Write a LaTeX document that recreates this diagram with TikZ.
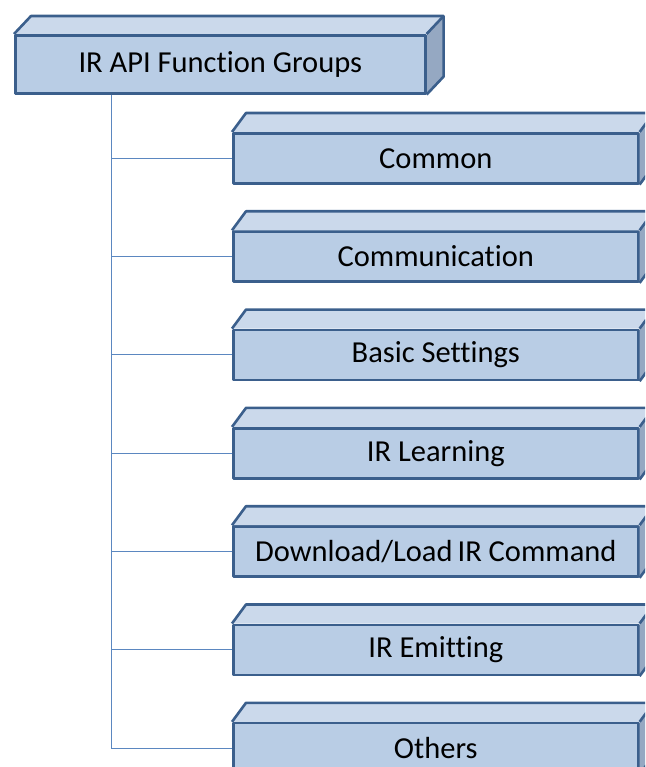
\documentclass[tikz,border=0pt]{standalone}
\usepackage{fontspec}
\setmainfont{Carlito}[Ligatures=NoCommon]
\usetikzlibrary{calc}
\definecolor{boxfill}{HTML}{B9CDE5}
\definecolor{boxtop}{HTML}{CBD9EB}
\definecolor{boxside}{HTML}{95A8C2}
\definecolor{boxedge}{HTML}{3B5F8C}
\definecolor{linkcol}{HTML}{5B87C0}
\tikzset{
  frontface/.style={rectangle, draw=boxedge, fill=boxfill, line width=2.6pt,
    line join=round, anchor=north west, inner sep=0pt, text=black,
    font=\fontsize{30.5}{34}\selectfont},
  mainbox/.style={frontface, minimum width=410pt, minimum height=58pt},
  childbox/.style={frontface, minimum width=405pt, minimum height=50pt},
  face/.style={draw=boxedge, line width=2.6pt, line join=round},
  link/.style={draw=linkcol, line width=0.9pt},
}
% front face node #1, depth offset (#2,#3)
\newcommand{\boxdepth}[3]{%
  \fill[boxtop] (#1.north west) -- ++(#2,#3) -- ($(#1.north east)+(#2,#3)$) -- (#1.north east) -- cycle;
  \fill[boxside] (#1.north east) -- ++(#2,#3) -- ($(#1.south east)+(#2,#3)$) -- (#1.south east) -- cycle;
  \draw[face] (#1.north west) -- ++(#2,#3) -- ($(#1.north east)+(#2,#3)$) -- ($(#1.south east)+(#2,#3)$) -- (#1.south east);
  \draw[face] (#1.north east) -- ++(#2,#3);
}
\begin{document}
\begin{tikzpicture}[x=1pt, y=1pt]
\useasboundingbox (0,0) rectangle (645,-767);
\begin{scope}
\clip (0,0) rectangle (645,-767);
% connectors run under the boxes
\coordinate (trunk) at (111,-92);
\foreach \i/\t in {1/{Common}, 2/{Communication}, 3/{Basic Settings}, 4/{IR Learning},
                   5/{Download/Load\,IR Command}, 6/{IR Emitting}, 7/{Others}}{
  \path (232,{-132-98.3*(\i-1)}) node[childbox] (c\i) {\t};
}
\node[mainbox] (main) at (14,-34) {IR API Function Groups};
\draw[link] (trunk) |- (c7.west);
\foreach \i in {1,...,6}{
  \draw[link] (trunk |- c\i.west) -- (c\i.west);
}
% depth faces of each box
\boxdepth{main}{17}{18}
\node[mainbox] at (14,-34) {IR API Function Groups};
\foreach \i in {1,...,7}{
  \boxdepth{c\i}{14}{19}
}
\end{scope}
\end{tikzpicture}
\end{document}
